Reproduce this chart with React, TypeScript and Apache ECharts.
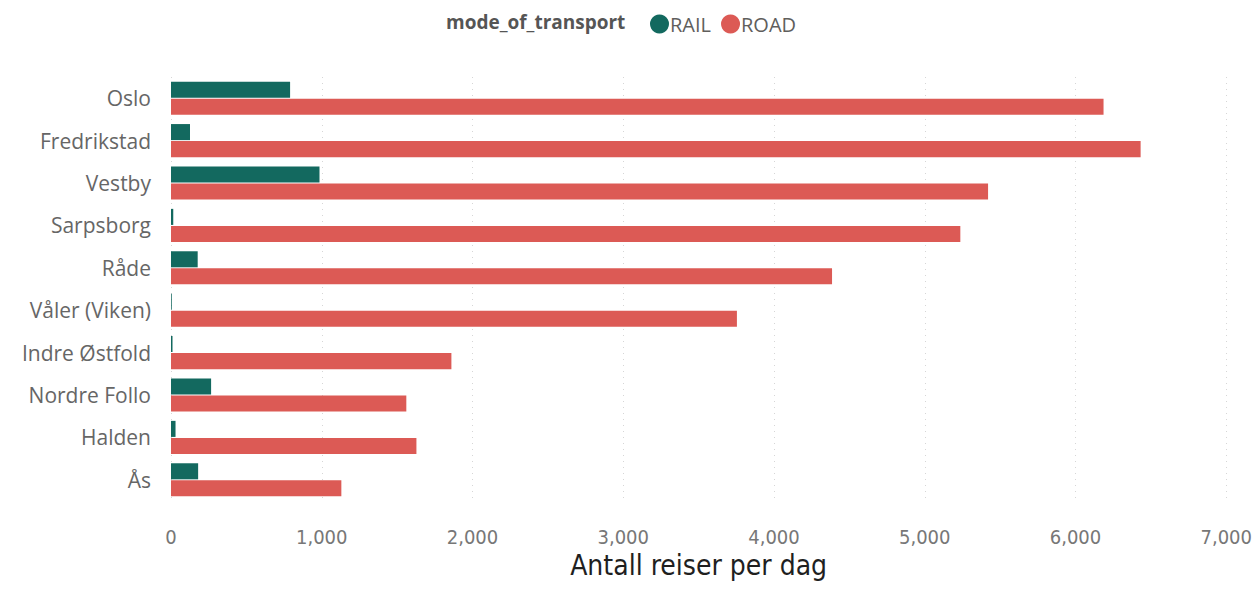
import React, { useEffect, useRef } from "react";
import * as echarts from "echarts";

const categories = ["Oslo", "Fredrikstad", "Vestby", "Sarpsborg", "Råde", "Våler (Viken)", "Indre Østfold", "Nordre Follo", "Halden", "Ås"];
const railValues = [790, 126, 985, 15, 177, 5, 10, 266, 30, 180];
const roadValues = [6186, 6432, 5420, 5236, 4385, 3754, 1860, 1561, 1628, 1130];
const seriesNames = ["RAIL", "ROAD"];
const legendTitle = "mode_of_transport";
const axisTitle = "Antall reiser per dag";

export default function App() {
  const ref = useRef<HTMLDivElement>(null);
  useEffect(() => {
    if (!ref.current) return;
    const chart = echarts.init(ref.current, null, { renderer: "svg" });
    chart.setOption({
      animation: false,
      backgroundColor: "#ffffff",
      graphic: [
        {
          type: "text",
          left: 446,
          top: 12,
          style: { text: legendTitle, fontFamily: "Open Sans", fontWeight: "bold", fontSize: 19, fill: "#555555" },
        },
      ],
      legend: {
        left: 650,
        top: 14,
        padding: 0,
        icon: "circle",
        itemWidth: 19,
        itemHeight: 19,
        itemGap: 10,
        textStyle: { fontFamily: "Open Sans", fontSize: 20, color: "#605e5c", padding: [0, 0, 0, -4] },
        data: seriesNames,
      },
      grid: { left: 171, right: 28, top: 77, bottom: 89, containLabel: false },
      xAxis: {
        type: "value",
        min: 0,
        max: 7000,
        interval: 1000,
        name: axisTitle,
        nameLocation: "middle",
        nameGap: 49,
        nameTextStyle: { fontFamily: "DejaVu Sans Condensed", fontSize: 28, color: "#1f1f1f" },
        axisLine: { show: false },
        axisTick: { show: false },
        axisLabel: {
          margin: 26,
          fontFamily: "DejaVu Sans Condensed",
          fontSize: 20,
          color: "#777777",
          formatter: (v: number) => v.toLocaleString("en-US"),
        },
        splitLine: { show: true, lineStyle: { color: "#d6d6d6", type: [1, 5], width: 1 } },
      },
      yAxis: {
        type: "category",
        data: categories,
        inverse: true,
        axisLine: { show: false },
        axisTick: { show: false },
        axisLabel: { margin: 20, fontFamily: "Open Sans", fontSize: 21, color: "#666666" },
      },
      series: [
        {
          name: seriesNames[0],
          type: "bar",
          data: railValues,
          itemStyle: { color: "#13695f" },
          barGap: "6%",
          barCategoryGap: "22%",
        },
        {
          name: seriesNames[1],
          type: "bar",
          data: roadValues,
          itemStyle: { color: "#dc5a55" },
          barGap: "6%",
          barCategoryGap: "22%",
        },
      ],
    });
    return () => chart.dispose();
  }, []);
  return <div ref={ref} style={{ position: "absolute", left: 0, top: 0, width: 1255, height: 590 }} />;
}
